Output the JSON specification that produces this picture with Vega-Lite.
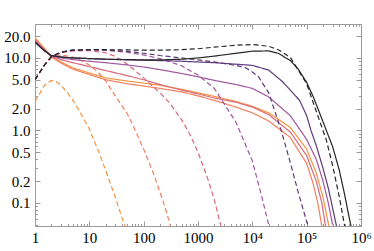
{
  "$schema": "https://vega.github.io/schema/vega-lite/v6.json",
  "width": 326,
  "height": 202,
  "autosize": {"type": "none"},
  "padding": {"left": 35, "top": 24, "right": 13, "bottom": 25},
  "config": {
    "view": {"stroke": "#9a9a9a", "strokeWidth": 1},
    "axis": {"labelFont": "Liberation Serif", "labelFontSize": 15, "labelColor": "#000", "domain": false, "grid": false, "tickColor": "#9a9a9a", "tickWidth": 1}
  },
  "datasets": {
    "curves": [
      {"c":"1","model":"full","x":1,"y":19},{"c":"1","model":"full","x":1.5,"y":13.5},{"c":"1","model":"full","x":2,"y":10.5},{"c":"1","model":"full","x":3,"y":8.8},{"c":"1","model":"full","x":5,"y":7.3},{"c":"1","model":"full","x":10,"y":6.2},{"c":"1","model":"full","x":20,"y":5.3},{"c":"1","model":"full","x":50,"y":4.8},{"c":"1","model":"full","x":100,"y":4.5},{"c":"1","model":"full","x":200,"y":4.2},{"c":"1","model":"full","x":500,"y":3.7},{"c":"1","model":"full","x":1000,"y":3.3},{"c":"1","model":"full","x":2000,"y":2.95},{"c":"1","model":"full","x":5000,"y":2.5},{"c":"1","model":"full","x":10000,"y":2.15},{"c":"1","model":"full","x":20000,"y":1.75},{"c":"1","model":"full","x":50000,"y":1.1},{"c":"1","model":"full","x":100000,"y":0.55},{"c":"1","model":"full","x":150000,"y":0.26},{"c":"1","model":"full","x":200000,"y":0.12},{"c":"1","model":"full","x":260000,"y":0.045},
      {"c":"1","model":"reduced","x":1,"y":2.5},{"c":"1","model":"reduced","x":1.5,"y":4.2},{"c":"1","model":"reduced","x":2,"y":4.9},{"c":"1","model":"reduced","x":2.5,"y":4.7},{"c":"1","model":"reduced","x":3,"y":4.2},{"c":"1","model":"reduced","x":4,"y":3.3},{"c":"1","model":"reduced","x":5,"y":2.6},{"c":"1","model":"reduced","x":7,"y":1.7},{"c":"1","model":"reduced","x":10,"y":1.05},{"c":"1","model":"reduced","x":15,"y":0.5},{"c":"1","model":"reduced","x":20,"y":0.28},{"c":"1","model":"reduced","x":30,"y":0.12},{"c":"1","model":"reduced","x":40,"y":0.062},{"c":"1","model":"reduced","x":50,"y":0.04},
      {"c":"2","model":"full","x":1,"y":18},{"c":"2","model":"full","x":1.5,"y":13},{"c":"2","model":"full","x":2,"y":10.3},{"c":"2","model":"full","x":3,"y":8.5},{"c":"2","model":"full","x":5,"y":7.0},{"c":"2","model":"full","x":10,"y":5.9},{"c":"2","model":"full","x":20,"y":5.0},{"c":"2","model":"full","x":50,"y":4.4},{"c":"2","model":"full","x":100,"y":4.1},{"c":"2","model":"full","x":200,"y":3.8},{"c":"2","model":"full","x":500,"y":3.4},{"c":"2","model":"full","x":1000,"y":3.0},{"c":"2","model":"full","x":2000,"y":2.6},{"c":"2","model":"full","x":5000,"y":2.1},{"c":"2","model":"full","x":10000,"y":1.75},{"c":"2","model":"full","x":20000,"y":1.35},{"c":"2","model":"full","x":50000,"y":0.8},{"c":"2","model":"full","x":100000,"y":0.35},{"c":"2","model":"full","x":130000,"y":0.19},{"c":"2","model":"full","x":160000,"y":0.1},{"c":"2","model":"full","x":190000,"y":0.048},
      {"c":"2","model":"reduced","x":1,"y":5},{"c":"2","model":"reduced","x":1.5,"y":8},{"c":"2","model":"reduced","x":2,"y":10},{"c":"2","model":"reduced","x":3,"y":11},{"c":"2","model":"reduced","x":5,"y":10.3},{"c":"2","model":"reduced","x":7,"y":9.2},{"c":"2","model":"reduced","x":10,"y":8},{"c":"2","model":"reduced","x":15,"y":6.2},{"c":"2","model":"reduced","x":20,"y":4.8},{"c":"2","model":"reduced","x":30,"y":3},{"c":"2","model":"reduced","x":50,"y":1.7},{"c":"2","model":"reduced","x":70,"y":1},{"c":"2","model":"reduced","x":100,"y":0.55},{"c":"2","model":"reduced","x":150,"y":0.26},{"c":"2","model":"reduced","x":200,"y":0.14},{"c":"2","model":"reduced","x":250,"y":0.085},{"c":"2","model":"reduced","x":320,"y":0.045},
      {"c":"3","model":"full","x":1,"y":17.5},{"c":"3","model":"full","x":1.5,"y":13},{"c":"3","model":"full","x":2,"y":10.5},{"c":"3","model":"full","x":3,"y":9.5},{"c":"3","model":"full","x":5,"y":8.6},{"c":"3","model":"full","x":10,"y":7.6},{"c":"3","model":"full","x":20,"y":6.7},{"c":"3","model":"full","x":50,"y":5.7},{"c":"3","model":"full","x":100,"y":5.0},{"c":"3","model":"full","x":200,"y":4.3},{"c":"3","model":"full","x":500,"y":3.6},{"c":"3","model":"full","x":1000,"y":3.2},{"c":"3","model":"full","x":2000,"y":2.8},{"c":"3","model":"full","x":5000,"y":2.45},{"c":"3","model":"full","x":10000,"y":2.1},{"c":"3","model":"full","x":20000,"y":1.65},{"c":"3","model":"full","x":50000,"y":0.95},{"c":"3","model":"full","x":100000,"y":0.45},{"c":"3","model":"full","x":150000,"y":0.2},{"c":"3","model":"full","x":190000,"y":0.1},{"c":"3","model":"full","x":225000,"y":0.045},
      {"c":"3","model":"reduced","x":1,"y":5},{"c":"3","model":"reduced","x":1.5,"y":8},{"c":"3","model":"reduced","x":2,"y":10.2},{"c":"3","model":"reduced","x":3,"y":11.8},{"c":"3","model":"reduced","x":5,"y":12.5},{"c":"3","model":"reduced","x":10,"y":12.6},{"c":"3","model":"reduced","x":20,"y":11.8},{"c":"3","model":"reduced","x":30,"y":10.5},{"c":"3","model":"reduced","x":50,"y":8.2},{"c":"3","model":"reduced","x":100,"y":5.3},{"c":"3","model":"reduced","x":200,"y":3.3},{"c":"3","model":"reduced","x":300,"y":2.4},{"c":"3","model":"reduced","x":500,"y":1.4},{"c":"3","model":"reduced","x":700,"y":0.9},{"c":"3","model":"reduced","x":1000,"y":0.5},{"c":"3","model":"reduced","x":1500,"y":0.22},{"c":"3","model":"reduced","x":2000,"y":0.11},{"c":"3","model":"reduced","x":2600,"y":0.05},{"c":"3","model":"reduced","x":3000,"y":0.035},
      {"c":"4","model":"full","x":1,"y":17},{"c":"4","model":"full","x":1.5,"y":12.8},{"c":"4","model":"full","x":2,"y":10.6},{"c":"4","model":"full","x":3,"y":10},{"c":"4","model":"full","x":5,"y":9.5},{"c":"4","model":"full","x":10,"y":9.0},{"c":"4","model":"full","x":20,"y":8.6},{"c":"4","model":"full","x":50,"y":8.0},{"c":"4","model":"full","x":100,"y":7.5},{"c":"4","model":"full","x":200,"y":6.9},{"c":"4","model":"full","x":500,"y":6.1},{"c":"4","model":"full","x":1000,"y":5.5},{"c":"4","model":"full","x":2000,"y":4.9},{"c":"4","model":"full","x":5000,"y":4.3},{"c":"4","model":"full","x":10000,"y":3.8},{"c":"4","model":"full","x":20000,"y":2.9},{"c":"4","model":"full","x":50000,"y":1.6},{"c":"4","model":"full","x":100000,"y":0.75},{"c":"4","model":"full","x":150000,"y":0.4},{"c":"4","model":"full","x":200000,"y":0.2},{"c":"4","model":"full","x":250000,"y":0.1},{"c":"4","model":"full","x":300000,"y":0.05},
      {"c":"4","model":"reduced","x":1,"y":5},{"c":"4","model":"reduced","x":1.5,"y":8},{"c":"4","model":"reduced","x":2,"y":10.3},{"c":"4","model":"reduced","x":3,"y":12},{"c":"4","model":"reduced","x":5,"y":12.8},{"c":"4","model":"reduced","x":10,"y":13},{"c":"4","model":"reduced","x":20,"y":12.8},{"c":"4","model":"reduced","x":50,"y":12},{"c":"4","model":"reduced","x":100,"y":11},{"c":"4","model":"reduced","x":200,"y":9.8},{"c":"4","model":"reduced","x":500,"y":7.8},{"c":"4","model":"reduced","x":1000,"y":5.8},{"c":"4","model":"reduced","x":2000,"y":3.8},{"c":"4","model":"reduced","x":5000,"y":1.3},{"c":"4","model":"reduced","x":10000,"y":0.38},{"c":"4","model":"reduced","x":15000,"y":0.12},{"c":"4","model":"reduced","x":20000,"y":0.05},{"c":"4","model":"reduced","x":22000,"y":0.038},
      {"c":"5","model":"full","x":1,"y":16.5},{"c":"5","model":"full","x":1.5,"y":12.5},{"c":"5","model":"full","x":2,"y":10.8},{"c":"5","model":"full","x":3,"y":10.3},{"c":"5","model":"full","x":5,"y":10},{"c":"5","model":"full","x":10,"y":9.8},{"c":"5","model":"full","x":20,"y":9.6},{"c":"5","model":"full","x":50,"y":9.4},{"c":"5","model":"full","x":100,"y":9.3},{"c":"5","model":"full","x":200,"y":9.2},{"c":"5","model":"full","x":500,"y":9.0},{"c":"5","model":"full","x":1000,"y":8.8},{"c":"5","model":"full","x":2000,"y":8.6},{"c":"5","model":"full","x":5000,"y":8.2},{"c":"5","model":"full","x":10000,"y":7.9},{"c":"5","model":"full","x":20000,"y":6.8},{"c":"5","model":"full","x":36000,"y":4.7},{"c":"5","model":"full","x":50000,"y":3.6},{"c":"5","model":"full","x":74000,"y":2.6},{"c":"5","model":"full","x":100000,"y":1.6},{"c":"5","model":"full","x":120000,"y":1.0},{"c":"5","model":"full","x":150000,"y":0.62},{"c":"5","model":"full","x":200000,"y":0.3},{"c":"5","model":"full","x":250000,"y":0.16},{"c":"5","model":"full","x":300000,"y":0.085},{"c":"5","model":"full","x":360000,"y":0.045},
      {"c":"5","model":"reduced","x":1,"y":5},{"c":"5","model":"reduced","x":1.5,"y":8},{"c":"5","model":"reduced","x":2,"y":10.4},{"c":"5","model":"reduced","x":3,"y":12},{"c":"5","model":"reduced","x":5,"y":12.8},{"c":"5","model":"reduced","x":10,"y":13},{"c":"5","model":"reduced","x":20,"y":12.8},{"c":"5","model":"reduced","x":50,"y":12.3},{"c":"5","model":"reduced","x":100,"y":11.6},{"c":"5","model":"reduced","x":200,"y":10.8},{"c":"5","model":"reduced","x":500,"y":10},{"c":"5","model":"reduced","x":1000,"y":9.4},{"c":"5","model":"reduced","x":2000,"y":8.8},{"c":"5","model":"reduced","x":5000,"y":7.9},{"c":"5","model":"reduced","x":7600,"y":7.3},{"c":"5","model":"reduced","x":10000,"y":6.4},{"c":"5","model":"reduced","x":13000,"y":5.5},{"c":"5","model":"reduced","x":20000,"y":3.3},{"c":"5","model":"reduced","x":34000,"y":1.0},{"c":"5","model":"reduced","x":50000,"y":0.36},{"c":"5","model":"reduced","x":70000,"y":0.14},{"c":"5","model":"reduced","x":100000,"y":0.055},{"c":"5","model":"reduced","x":115000,"y":0.042},
      {"c":"6","model":"full","x":1,"y":16.5},{"c":"6","model":"full","x":1.5,"y":12.5},{"c":"6","model":"full","x":2,"y":10.8},{"c":"6","model":"full","x":3,"y":10.3},{"c":"6","model":"full","x":5,"y":10.0},{"c":"6","model":"full","x":10,"y":9.8},{"c":"6","model":"full","x":20,"y":9.6},{"c":"6","model":"full","x":50,"y":9.5},{"c":"6","model":"full","x":100,"y":9.4},{"c":"6","model":"full","x":200,"y":9.4},{"c":"6","model":"full","x":500,"y":9.6},{"c":"6","model":"full","x":1000,"y":10.0},{"c":"6","model":"full","x":2000,"y":10.6},{"c":"6","model":"full","x":5000,"y":11.6},{"c":"6","model":"full","x":10000,"y":12.4},{"c":"6","model":"full","x":20000,"y":12.5},{"c":"6","model":"full","x":30000,"y":11.6},{"c":"6","model":"full","x":50000,"y":9.2},{"c":"6","model":"full","x":70000,"y":7.0},{"c":"6","model":"full","x":100000,"y":4.6},{"c":"6","model":"full","x":130000,"y":3.0},{"c":"6","model":"full","x":170000,"y":1.8},{"c":"6","model":"full","x":230000,"y":1.0},{"c":"6","model":"full","x":300000,"y":0.6},{"c":"6","model":"full","x":400000,"y":0.28},{"c":"6","model":"full","x":500000,"y":0.13},{"c":"6","model":"full","x":600000,"y":0.065},{"c":"6","model":"full","x":680000,"y":0.042},
      {"c":"6","model":"reduced","x":1,"y":5},{"c":"6","model":"reduced","x":1.5,"y":8},{"c":"6","model":"reduced","x":2,"y":10.5},{"c":"6","model":"reduced","x":3,"y":12},{"c":"6","model":"reduced","x":5,"y":12.8},{"c":"6","model":"reduced","x":10,"y":13},{"c":"6","model":"reduced","x":20,"y":13},{"c":"6","model":"reduced","x":50,"y":12.9},{"c":"6","model":"reduced","x":100,"y":12.8},{"c":"6","model":"reduced","x":200,"y":12.8},{"c":"6","model":"reduced","x":500,"y":13},{"c":"6","model":"reduced","x":1000,"y":13.4},{"c":"6","model":"reduced","x":2000,"y":14.1},{"c":"6","model":"reduced","x":5000,"y":15},{"c":"6","model":"reduced","x":10000,"y":15.3},{"c":"6","model":"reduced","x":20000,"y":14.5},{"c":"6","model":"reduced","x":30000,"y":13},{"c":"6","model":"reduced","x":50000,"y":10.2},{"c":"6","model":"reduced","x":70000,"y":6.8},{"c":"6","model":"reduced","x":100000,"y":4.4},{"c":"6","model":"reduced","x":130000,"y":2.5},{"c":"6","model":"reduced","x":160000,"y":1.6},{"c":"6","model":"reduced","x":230000,"y":0.74},{"c":"6","model":"reduced","x":300000,"y":0.33},{"c":"6","model":"reduced","x":400000,"y":0.12},{"c":"6","model":"reduced","x":500000,"y":0.048},{"c":"6","model":"reduced","x":530000,"y":0.04}
    ]
  },
  "data": {"name": "curves"},
  "resolve": {"axis": {"x": "independent", "y": "independent"}},
  "layer": [
    {
      "mark": {"type": "line", "clip": true, "strokeWidth": 1.2},
      "encoding": {
        "x": {"field": "x", "type": "quantitative", "scale": {"type": "log", "domain": [1, 1000000], "nice": false},
              "axis": {"orient": "bottom", "values": [1, 10, 100, 1000, 10000, 100000, 1000000], "ticks": false, "labelPadding": 4, "labelFlush": false, "labelOverlap": false, "title": null,
                       "labelExpr": "datum.value >= 999999 ? '10⁶' : datum.value >= 99999 ? '10⁵' : datum.value >= 9999 ? '10⁴' : format(datum.value, 'd')"}},
        "y": {"field": "y", "type": "quantitative", "scale": {"type": "log", "domain": [0.048, 29.4], "nice": false},
              "axis": {"orient": "left", "values": [0.1, 0.2, 0.5, 1, 2, 5, 10, 20], "format": ".1f", "ticks": false, "labelPadding": 5, "labelOverlap": false, "labelFlush": false, "title": null}},
        "color": {"field": "c", "type": "nominal", "scale": {"domain": ["1", "2", "3", "4", "5", "6"], "range": ["#F7923D", "#F07F5E", "#D9677A", "#A0559F", "#5E3A7E", "#262626"]}, "legend": null},
        "strokeDash": {"field": "model", "type": "nominal", "scale": {"domain": ["full", "reduced"], "range": [[1, 0], [5, 3]]}, "legend": null}
      }
    },
    {
      "mark": {"type": "rule", "opacity": 0},
      "encoding": {"x": {"field": "x", "type": "quantitative", "scale": {"type": "log", "domain": [1, 1000000], "nice": false},
        "axis": {"orient": "top", "values": [1, 10, 100, 1000, 10000, 100000, 1000000], "labels": false, "ticks": true, "tickSize": -5, "title": null}}}
    },
    {
      "mark": {"type": "rule", "opacity": 0},
      "encoding": {"x": {"field": "x", "type": "quantitative", "scale": {"type": "log", "domain": [1, 1000000], "nice": false},
        "axis": {"orient": "bottom", "values": [1, 10, 100, 1000, 10000, 100000, 1000000], "labels": false, "ticks": true, "tickSize": -5, "title": null}}}
    },
    {
      "mark": {"type": "rule", "opacity": 0},
      "encoding": {"x": {"field": "x", "type": "quantitative", "scale": {"type": "log", "domain": [1, 1000000], "nice": false},
        "axis": {"orient": "top", "values": [2,3,4,5,6,7,8,9,20,30,40,50,60,70,80,90,200,300,400,500,600,700,800,900,2000,3000,4000,5000,6000,7000,8000,9000,20000,30000,40000,50000,60000,70000,80000,90000,200000,300000,400000,500000,600000,700000,800000,900000], "labels": false, "ticks": true, "tickSize": -2.5, "title": null}}}
    },
    {
      "mark": {"type": "rule", "opacity": 0},
      "encoding": {"x": {"field": "x", "type": "quantitative", "scale": {"type": "log", "domain": [1, 1000000], "nice": false},
        "axis": {"orient": "bottom", "values": [2,3,4,5,6,7,8,9,20,30,40,50,60,70,80,90,200,300,400,500,600,700,800,900,2000,3000,4000,5000,6000,7000,8000,9000,20000,30000,40000,50000,60000,70000,80000,90000,200000,300000,400000,500000,600000,700000,800000,900000], "labels": false, "ticks": true, "tickSize": -2.5, "title": null}}}
    },
    {
      "mark": {"type": "rule", "opacity": 0},
      "encoding": {"y": {"field": "y", "type": "quantitative", "scale": {"type": "log", "domain": [0.048, 29.4], "nice": false},
        "axis": {"orient": "left", "values": [0.1, 0.2, 0.5, 1, 2, 5, 10, 20], "labels": false, "ticks": true, "tickSize": -5, "title": null}}}
    },
    {
      "mark": {"type": "rule", "opacity": 0},
      "encoding": {"y": {"field": "y", "type": "quantitative", "scale": {"type": "log", "domain": [0.048, 29.4], "nice": false},
        "axis": {"orient": "right", "values": [0.1, 0.2, 0.5, 1, 2, 5, 10, 20], "labels": false, "ticks": true, "tickSize": -5, "title": null}}}
    },
    {
      "mark": {"type": "rule", "opacity": 0},
      "encoding": {"y": {"field": "y", "type": "quantitative", "scale": {"type": "log", "domain": [0.048, 29.4], "nice": false},
        "axis": {"orient": "left", "values": [0.05,0.06,0.07,0.08,0.09,0.3,0.4,0.6,0.7,0.8,0.9,3,4,6,7,8,9], "labels": false, "ticks": true, "tickSize": -2.5, "title": null}}}
    },
    {
      "mark": {"type": "rule", "opacity": 0},
      "encoding": {"y": {"field": "y", "type": "quantitative", "scale": {"type": "log", "domain": [0.048, 29.4], "nice": false},
        "axis": {"orient": "right", "values": [0.05,0.06,0.07,0.08,0.09,0.3,0.4,0.6,0.7,0.8,0.9,3,4,6,7,8,9], "labels": false, "ticks": true, "tickSize": -2.5, "title": null}}}
    }
  ]
}
